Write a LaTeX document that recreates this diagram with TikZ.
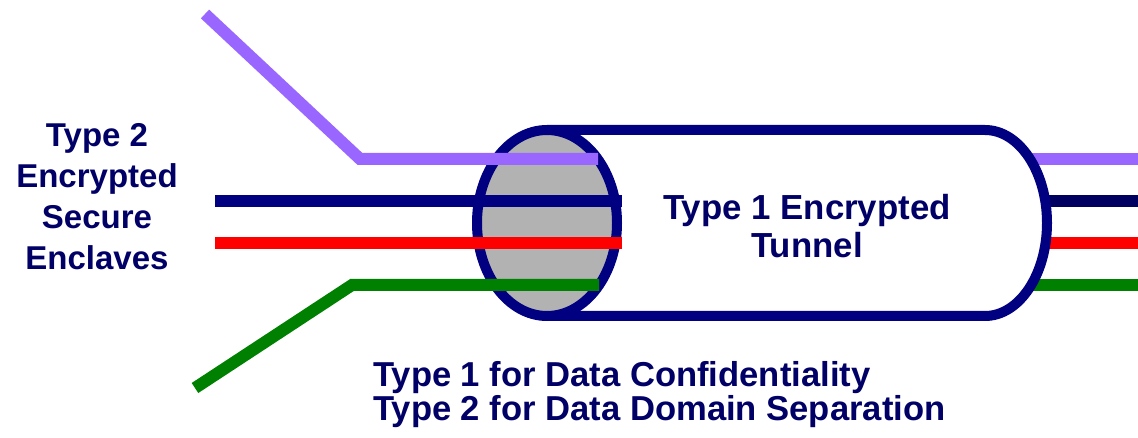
\documentclass[tikz,border=0pt]{standalone}
\usepackage{fontspec}
\setmainfont{Liberation Sans}
\usetikzlibrary{shapes.geometric}

\definecolor{wirepurple}{RGB}{153,102,255}
\definecolor{wirenavy}{RGB}{0,0,128}
\definecolor{wiredark}{RGB}{0,0,96}
\definecolor{wirered}{RGB}{255,0,0}
\definecolor{wiregreen}{RGB}{0,128,0}
\definecolor{facegray}{RGB}{178,178,178}
\definecolor{textnavy}{RGB}{0,0,102}

\begin{document}
\begin{tikzpicture}[x=1pt,y=-1pt]
        \useasboundingbox (0,0) rectangle (1138,438);
        \begin{scope}[wire/.style={line width=12pt}, tube/.style={draw=wirenavy, line width=10pt},
                face/.style={ellipse, draw=wirenavy, fill=facegray, line width=10pt, minimum width=140pt, minimum height=186pt, inner sep=0},
                caption/.style={text=textnavy, font=\bfseries, inner sep=0}]
                % wires leaving the tunnel
                \coordinate (Pout) at (1031,159);
                \coordinate (Nout) at (1045,201);
                \coordinate (Rout) at (1045,243);
                \coordinate (Gout) at (1031,285);
                \coordinate (Pend) at (1138,159);
                \coordinate (Nend) at (1138,201);
                \coordinate (Rend) at (1138,243);
                \coordinate (Gend) at (1138,285);
                \draw[wire, wirepurple] (Pout) -- (Pend);
                \draw[wire, wiredark] (Nout) -- (Nend);
                \draw[wire, wirered] (Rout) -- (Rend);
                \draw[wire, wiregreen] (Gout) -- (Gend);

                % tunnel body and front face
                \draw[tube] (547,130) -- (985,130) arc[start angle=-90, end angle=90, x radius=62, y radius=93] -- (547,316);
                \node[face] (face) at (547,223) {};

                % wires entering the tunnel
                \coordinate (P0) at (205,14);
                \coordinate (P1) at (360,159);
                \coordinate (Pin) at (598,159);
                \coordinate (N0) at (215,201);
                \coordinate (Nin) at (622,201);
                \coordinate (R0) at (215,243);
                \coordinate (Rin) at (622,243);
                \coordinate (G0) at (195,388);
                \coordinate (G1) at (352,285);
                \coordinate (Gin) at (599,285);
                \draw[wire, wirepurple] (P0) -- (P1) -- (Pin);
                \draw[wire, wirenavy] (N0) -- (Nin);
                \draw[wire, wirered] (R0) -- (Rin);
                \draw[wire, wiregreen] (G0) -- (G1) -- (Gin);

                \node[caption, align=center, anchor=base, font=\fontsize{33}{41}\selectfont\bfseries] (enclaves) at (97,270) {Type 2\\Encrypted\\Secure\\Enclaves};
                \node[caption, align=center, anchor=base, font=\fontsize{34.8}{38}\selectfont\bfseries] (tunnel) at (807,258) {Type 1 Encrypted\\Tunnel};
                \node[caption, align=left, anchor=base west, font=\fontsize{34.6}{34}\selectfont\bfseries] (types) at (373,420) {Type 1 for Data Confidentiality\\Type 2 for Data Domain Separation};
        \end{scope}
\end{tikzpicture}
\end{document}
